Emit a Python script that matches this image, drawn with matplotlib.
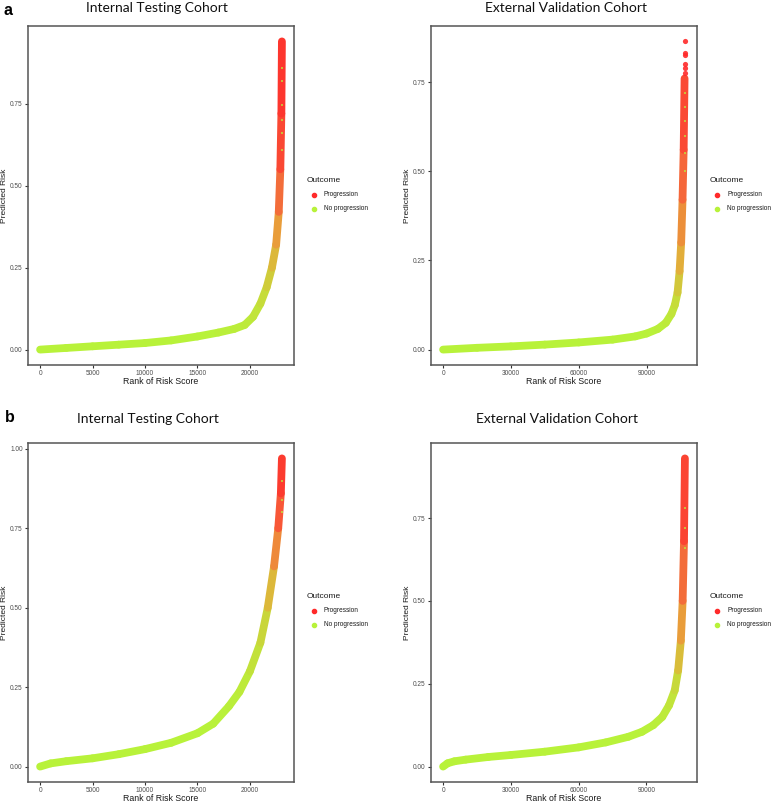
import matplotlib
matplotlib.use("Agg")
import matplotlib.pyplot as plt
from matplotlib.collections import LineCollection
from matplotlib.colors import LinearSegmentedColormap
from matplotlib.lines import Line2D
from matplotlib.ticker import MultipleLocator, FormatStrFormatter, FixedLocator

# ==========================================
# Data (sorted predicted risk by rank)
# ==========================================

# a - internal testing cohort
int_a_rank = [0, 2500, 5000, 7500, 10000, 12500, 15000, 17000, 18500, 19500,
              20300, 21000, 21600, 22100, 22500, 22750, 22900, 23000, 23050]
int_a_risk = [0.0, 0.005, 0.01, 0.015, 0.02, 0.028, 0.04, 0.052, 0.063, 0.075,
              0.1, 0.14, 0.19, 0.25, 0.32, 0.42, 0.55, 0.72, 0.94]
int_a_prog = [0, 0, 0, 0, 0, 0, 0, 0, 0.05, 0.05,
              0.1, 0.15, 0.25, 0.35, 0.45, 0.6, 0.8, 0.92, 0.97]
int_a_tail_noprog = [0.86, 0.82, 0.745, 0.70, 0.66, 0.61]

# a - external validation cohort
ext_a_rank = [0, 15000, 30000, 45000, 60000, 75000, 85000, 90000, 95000, 98500,
              101000, 102500, 103700, 104600, 105300, 105900, 106400, 106800]
ext_a_risk = [0.0, 0.005, 0.009, 0.014, 0.02, 0.028, 0.037, 0.045, 0.058, 0.075,
              0.1, 0.125, 0.16, 0.22, 0.3, 0.42, 0.56, 0.76]
ext_a_prog = [0, 0, 0, 0, 0, 0, 0, 0, 0.02, 0.05,
              0.1, 0.15, 0.25, 0.4, 0.5, 0.65, 0.8, 0.9]
ext_a_top_prog = [0.864, 0.832, 0.825, 0.80, 0.79, 0.775]
ext_a_tail_noprog = [0.72, 0.68, 0.64, 0.60, 0.55, 0.50]

# b - internal testing cohort
int_b_rank = [0, 1000, 2500, 5000, 7500, 10000, 12500, 15000, 16500, 18000,
              19000, 20000, 21000, 21700, 22300, 22700, 22950, 23050]
int_b_risk = [0.0, 0.01, 0.017, 0.026, 0.039, 0.055, 0.075, 0.105, 0.135, 0.19,
              0.235, 0.3, 0.39, 0.5, 0.63, 0.75, 0.86, 0.97]
int_b_prog = [0, 0, 0, 0, 0, 0, 0, 0, 0, 0.02,
              0.05, 0.1, 0.2, 0.3, 0.5, 0.7, 0.88, 0.96]
int_b_tail_noprog = [0.90, 0.84, 0.80]

# b - external validation cohort
ext_b_rank = [0, 2000, 5000, 10000, 20000, 30000, 45000, 60000, 72000, 82000,
              88000, 93000, 97000, 100000, 102500, 104000, 105200, 106000, 106600, 107000]
ext_b_risk = [0.0, 0.01, 0.016, 0.021, 0.029, 0.035, 0.045, 0.058, 0.073, 0.09,
              0.105, 0.125, 0.15, 0.185, 0.23, 0.29, 0.38, 0.5, 0.68, 0.93]
ext_b_prog = [0, 0, 0, 0, 0, 0, 0, 0, 0, 0,
              0, 0.02, 0.05, 0.1, 0.15, 0.3, 0.45, 0.6, 0.8, 0.95]
ext_b_tail_noprog = [0.78, 0.72, 0.66]

int_xticks = [0, 5000, 10000, 15000, 20000]
ext_xticks = [0, 30000, 60000, 90000]

outcome_labels = ["Progression", "No progression"]
RED = "#FF2A2A"
GREEN = "#B8F23A"

cmap = LinearSegmentedColormap.from_list(
    "outcome", [GREEN, "#C9D63A", "#E8A43A", "#F6603A", RED])

# ==========================================
# Figure
# ==========================================

W, H = 774, 802
fig = plt.figure(figsize=(W / 100, H / 100), dpi=100)
fig.patch.set_facecolor("white")


def px_axes(x0, y0, x1, y1):
    return fig.add_axes([x0 / W, 1 - y1 / H, (x1 - x0) / W, (y1 - y0) / H])


def draw_panel(ax, rank, risk, prog, xticks, tail_noprog, extra_prog=None):
    pts = list(zip(rank, risk))
    segs = [[pts[i], pts[i + 1]] for i in range(len(pts) - 1)]
    shares = [(prog[i] + prog[i + 1]) / 2 for i in range(len(pts) - 1)]
    lc = LineCollection(segs, cmap=cmap, norm=plt.Normalize(0, 1),
                        linewidths=5.6, capstyle="round", joinstyle="round")
    lc.set_array(shares)
    ax.add_collection(lc, autolim=True)

    if extra_prog:
        ax.scatter([rank[-1] + 150] * len(extra_prog), extra_prog,
                   s=14, color=RED, alpha=0.9, linewidths=0, zorder=3)
    ax.scatter([rank[-1]] * len(tail_noprog), tail_noprog, marker="s",
               s=3, color=GREEN, alpha=0.7, linewidths=0, zorder=4)

    ax.autoscale_view()
    ax.margins(0.05)

    ax.xaxis.set_major_locator(FixedLocator(xticks))
    ax.yaxis.set_major_locator(MultipleLocator(0.25))
    ax.yaxis.set_major_formatter(FormatStrFormatter("%.2f"))
    ax.tick_params(length=2.5, width=0.8, color="#333333",
                   labelsize=4.7, labelcolor="#4D4D4D", pad=1.2)
    for sp in ax.spines.values():
        sp.set_color("#555555")
        sp.set_linewidth(1.1)
    ax.set_xlabel("Rank of Risk Score", fontsize=6.3, color="#1A1A1A",
                  family="Liberation Sans")
    ax.set_ylabel("Predicted Risk", fontsize=6.0, color="#1A1A1A",
                  family="Liberation Sans")
    # place axis titles where the reference has them
    ax.xaxis.set_label_coords(0.5, -0.036)
    ax.yaxis.set_label_coords(-0.075, 0.5)
    for lab in ax.get_xticklabels() + ax.get_yticklabels():
        lab.set_family("Liberation Sans")


def draw_legend(x, y):
    fig.text(x / W, 1 - y / H, "Outcome", fontsize=6, color="#1A1A1A",
             va="center", ha="left", family="Liberation Sans")
    colors = [RED, GREEN]
    for i, lab in enumerate(outcome_labels):
        yy = y + 14 + 14 * i
        fig.add_artist(Line2D([(x + 7) / W], [1 - yy / H], marker="o",
                              markersize=3, color=colors[i], linestyle="none",
                              transform=fig.transFigure))
        fig.text((x + 17) / W, 1 - yy / H, lab, fontsize=4.7, color="#1A1A1A",
                 va="center", ha="left", family="Liberation Sans")


ax1 = px_axes(28, 26, 294, 365)
draw_panel(ax1, int_a_rank, int_a_risk, int_a_prog, int_xticks, int_a_tail_noprog)
ax2 = px_axes(431, 26, 697, 365)
draw_panel(ax2, ext_a_rank, ext_a_risk, ext_a_prog, ext_xticks, ext_a_tail_noprog,
           extra_prog=ext_a_top_prog)
ax3 = px_axes(28, 443, 294, 782)
draw_panel(ax3, int_b_rank, int_b_risk, int_b_prog, int_xticks, int_b_tail_noprog)
ax4 = px_axes(431, 443, 697, 782)
draw_panel(ax4, ext_b_rank, ext_b_risk, ext_b_prog, ext_xticks, ext_b_tail_noprog)

draw_legend(307, 181)
draw_legend(710, 181)
draw_legend(307, 597)
draw_legend(710, 597)

# titles and panel letters
title_kw = dict(fontsize=10, color="#111111", ha="center", va="baseline",
                family="Lato")
fig.text(157 / W, 1 - 12.5 / H, "Internal Testing Cohort", **title_kw)
fig.text(566 / W, 1 - 12.5 / H, "External Validation Cohort", **title_kw)
fig.text(148 / W, 1 - 423 / H, "Internal Testing Cohort", **title_kw)
fig.text(557 / W, 1 - 423 / H, "External Validation Cohort", **title_kw)

letter_kw = dict(fontsize=11.5, fontweight="bold", color="black",
                 ha="left", va="baseline", family="Liberation Sans")
fig.text(4 / W, 1 - 15 / H, "a", **letter_kw)
fig.text(5 / W, 1 - 421.5 / H, "b", **letter_kw)

fig.savefig("out.png", dpi=100)
print("Saved: out.png")
